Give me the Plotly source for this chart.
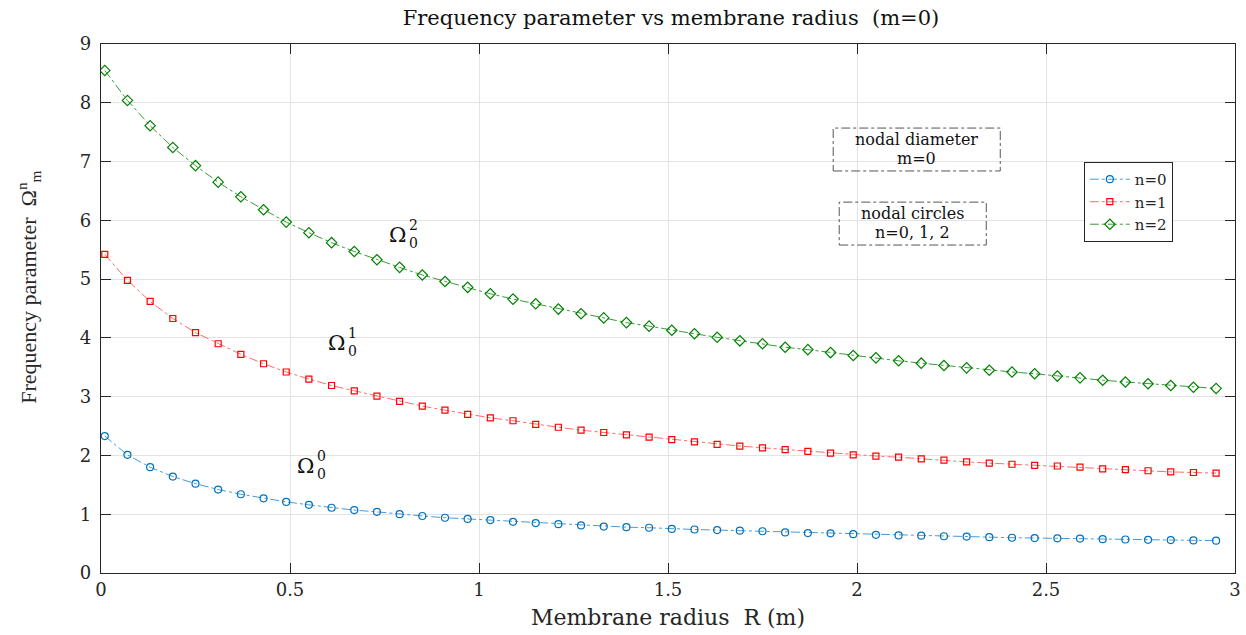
import plotly.graph_objects as go

# ---- data ----
radius = [0.01, 0.07, 0.13, 0.19, 0.25, 0.31, 0.37, 0.43, 0.49, 0.55,
          0.61, 0.67, 0.73, 0.79, 0.85, 0.91, 0.97, 1.03, 1.09, 1.15,
          1.21, 1.27, 1.33, 1.39, 1.45, 1.51, 1.57, 1.63, 1.69, 1.75,
          1.81, 1.87, 1.93, 1.99, 2.05, 2.11, 2.17, 2.23, 2.29, 2.35,
          2.41, 2.47, 2.53, 2.59, 2.65, 2.71, 2.77, 2.83, 2.89, 2.95]

omega_n0 = [2.33, 2.01, 1.80, 1.64, 1.52, 1.42, 1.34, 1.27, 1.21, 1.16,
            1.11, 1.07, 1.04, 1.00, 0.97, 0.94, 0.92, 0.90, 0.87, 0.85,
            0.83, 0.81, 0.79, 0.78, 0.77, 0.75, 0.74, 0.73, 0.72, 0.71,
            0.69, 0.68, 0.675, 0.66, 0.65, 0.64, 0.635, 0.625, 0.62, 0.61,
            0.60, 0.595, 0.59, 0.585, 0.575, 0.57, 0.565, 0.56, 0.555, 0.55]

omega_n1 = [5.42, 4.98, 4.62, 4.33, 4.09, 3.90, 3.72, 3.56, 3.42, 3.30,
            3.19, 3.10, 3.01, 2.92, 2.84, 2.77, 2.70, 2.64, 2.59, 2.53,
            2.48, 2.43, 2.39, 2.35, 2.31, 2.27, 2.23, 2.19, 2.16, 2.13,
            2.10, 2.07, 2.04, 2.01, 1.99, 1.97, 1.94, 1.92, 1.89, 1.87,
            1.85, 1.83, 1.82, 1.80, 1.77, 1.76, 1.74, 1.72, 1.71, 1.70]

omega_n2 = [8.55, 8.04, 7.61, 7.24, 6.93, 6.65, 6.40, 6.18, 5.97, 5.79,
            5.62, 5.47, 5.33, 5.20, 5.07, 4.96, 4.86, 4.75, 4.66, 4.58,
            4.49, 4.41, 4.34, 4.26, 4.20, 4.13, 4.07, 4.01, 3.95, 3.90,
            3.84, 3.80, 3.75, 3.70, 3.66, 3.61, 3.57, 3.53, 3.49, 3.45,
            3.42, 3.39, 3.35, 3.32, 3.28, 3.25, 3.22, 3.19, 3.16, 3.14]

series_names = ["n=0", "n=1", "n=2"]
x_ticks = [0, 0.5, 1, 1.5, 2, 2.5, 3]
x_tick_labels = ["0", "0.5", "1", "1.5", "2", "2.5", "3"]
y_ticks = [0, 1, 2, 3, 4, 5, 6, 7, 8, 9]

SERIF = "DejaVu Serif, serif"
NARROW = "Liberation Serif, serif"
TXT = "#262626"

styles = [
    dict(line="#4a9ad6", marker="#0072BD", symbol="circle-open", size=7),
    dict(line="#ff6b6b", marker="#FF0000", symbol="square-open", size=6),
    dict(line="#3a9a3a", marker="#008000", symbol="diamond-open", size=8),
]

fig = go.Figure()
for name, ys, st in zip(series_names, [omega_n0, omega_n1, omega_n2], styles):
    fig.add_trace(go.Scatter(
        x=radius, y=ys, name=name, mode="lines+markers",
        line=dict(color=st["line"], width=1, dash="dashdot"),
        marker=dict(symbol=st["symbol"], size=st["size"], color=st["marker"],
                    line=dict(width=1.2, color=st["marker"])),
    ))

axis_common = dict(
    showline=True, linecolor="#262626", linewidth=1.3, mirror="allticks",
    ticks="inside", ticklen=10, tickcolor="#262626", tickwidth=1,
    showgrid=True, gridcolor="#e3e3e3", gridwidth=1, zeroline=False,
    tickfont=dict(family=SERIF, size=18, color=TXT),
)

fig.update_layout(
    width=1246, height=635,
    margin=dict(l=101, r=5, t=44, b=62),
    paper_bgcolor="white", plot_bgcolor="white",
    title=dict(text="Frequency parameter vs membrane radius  (m=0)",
               x=(101 + 1241) / 2 / 1246, xanchor="center", y=0.972, yanchor="middle",
               font=dict(family=SERIF, size=21, color="#111111")),
    xaxis=dict(range=[0, 3], tickvals=x_ticks, ticktext=x_tick_labels,
               ticklabeloverflow="allow",
               title=dict(text="Membrane radius  R (m)", standoff=10,
                          font=dict(family=SERIF, size=22, color=TXT)),
               **axis_common),
    yaxis=dict(range=[0, 9], tickvals=y_ticks, ticklabelstandoff=5, **axis_common),
    legend=dict(x=0.8667, y=0.777, xanchor="left", yanchor="top",
                bgcolor="white", bordercolor="#262626", borderwidth=1,
                font=dict(family=SERIF, size=15, color=TXT),
                itemwidth=40, tracegroupgap=0),
    showlegend=True,
)

# y-axis title as rotated annotation
fig.add_annotation(xref="paper", yref="paper", x=-0.064, y=0.54,
                   xanchor="center", yanchor="middle",
                   text="Frequency parameter  Ω<sup>n</sup><sub>m</sub>",
                   textangle=-90, showarrow=False,
                   font=dict(family=NARROW, size=22, color=TXT))

# curve labels
labels = [(0.784, 5.75, "2"), (0.624, 3.91, "1"), (0.542, 1.82, "0")]
for lx, ly, sup in labels:
    fig.add_annotation(x=lx, y=ly, text="Ω", showarrow=False,
                       font=dict(family=SERIF, size=21, color="#111111"))
    fig.add_annotation(x=lx, y=ly, text=sup, showarrow=False, xshift=16, yshift=10,
                       font=dict(family=SERIF, size=14, color="#111111"))
    fig.add_annotation(x=lx, y=ly, text="0", showarrow=False, xshift=16, yshift=-8,
                       font=dict(family=SERIF, size=14, color="#111111"))

# dash-dot text boxes
boxes = [((1.937, 2.379, 6.84, 7.57), "nodal diameter", "m=0"),
         ((1.953, 2.342, 5.58, 6.31), "nodal circles", "n=0, 1, 2")]
for (x0, x1, y0, y1), line1, line2 in boxes:
    fig.add_shape(type="rect", x0=x0, x1=x1, y0=y0, y1=y1,
                  line=dict(color="#555555", width=1, dash="dashdot"),
                  fillcolor="rgba(0,0,0,0)")
    yc = (y0 + y1) / 2
    fig.add_annotation(x=(x0 + x1) / 2, y=yc, yshift=10, text=line1, showarrow=False,
                       font=dict(family=SERIF, size=16, color="#111111"))
    fig.add_annotation(x=(x0 + x1) / 2, y=yc, yshift=-9, text=line2, showarrow=False,
                       font=dict(family=SERIF, size=16, color="#111111"))

fig.write_html("out.html")
